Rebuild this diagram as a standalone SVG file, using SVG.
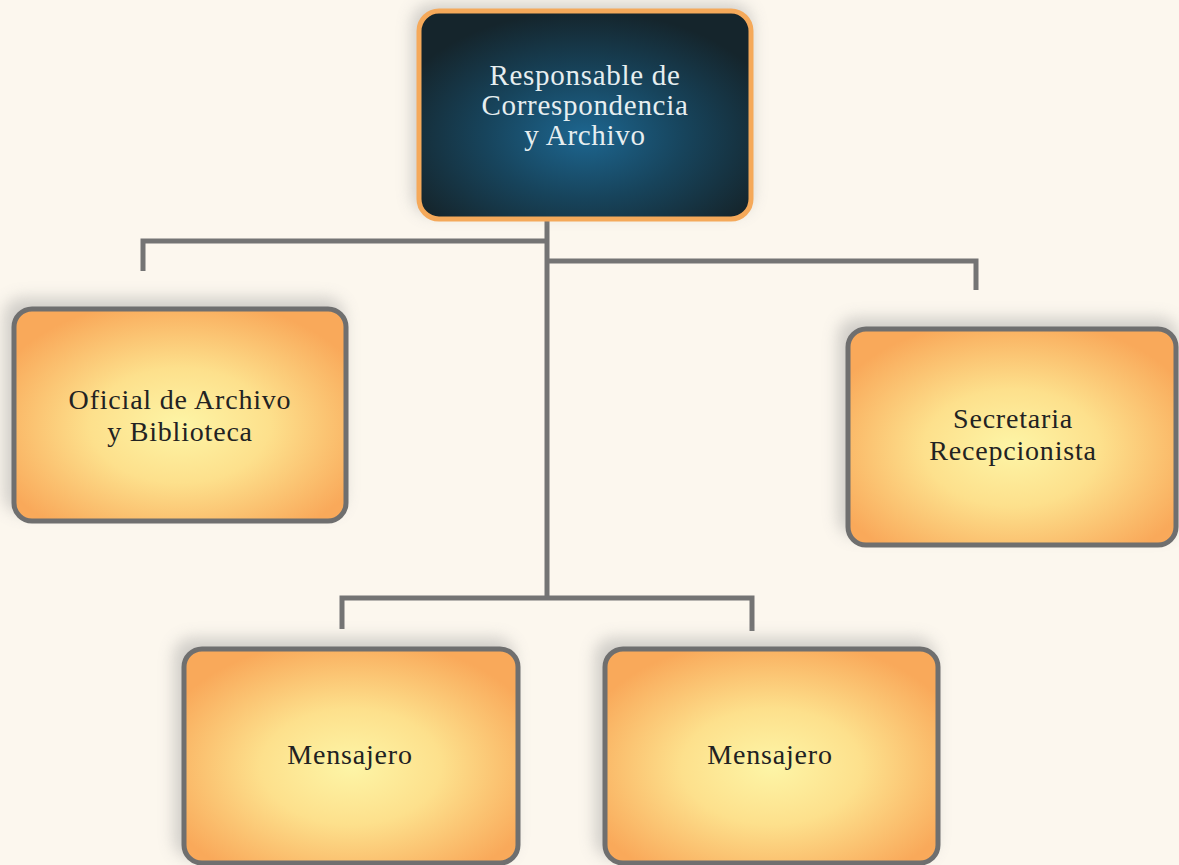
<svg xmlns="http://www.w3.org/2000/svg" width="1179" height="865" viewBox="0 0 1179 865">
<defs>
<radialGradient id="og" cx="0.5" cy="0.55" r="0.6">
<stop offset="0" stop-color="#fdf5a6"/>
<stop offset="0.45" stop-color="#fde08c"/>
<stop offset="1" stop-color="#f9a95a"/>
</radialGradient>
<radialGradient id="tg" cx="0.5" cy="0.6" r="0.6">
<stop offset="0" stop-color="#1d6690"/>
<stop offset="0.5" stop-color="#17445c"/>
<stop offset="1" stop-color="#15252c"/>
</radialGradient>
<filter id="sh" x="-20%" y="-20%" width="140%" height="140%">
<feGaussianBlur stdDeviation="8"/>
</filter>
<style>
.box{stroke:#6f6f6f;stroke-width:5;fill:url(#og)}
.shadow{fill:#9a9a9a;opacity:0.45;filter:url(#sh)}
.lbl{font-family:"Liberation Serif","DejaVu Serif",serif;font-size:28px;letter-spacing:0.8px;fill:#222;text-anchor:middle}
.tl{font-family:"Liberation Serif","DejaVu Serif",serif;font-size:29px;letter-spacing:0.7px;fill:#e6eef0;text-anchor:middle}
.conn{stroke:#747474;stroke-width:5;fill:none}
</style>
</defs>
<rect width="1179" height="865" fill="#fcf7ee"/>
<g id="connectors">
<path class="conn" d="M547 220V598"/>
<path class="conn" d="M143 271V241H547"/>
<path class="conn" d="M547 261H976V290"/>
<path class="conn" d="M342 629V598H752V631"/>
</g>
<g id="top">
<rect x="412" y="4" width="340" height="210" rx="20" class="shadow"/>
<rect x="419" y="11" width="332" height="208" rx="20" fill="url(#tg)" stroke="#f5a95a" stroke-width="5"/>
<text class="tl" x="585" y="85">Responsable de</text>
<text class="tl" x="585" y="115">Correspondencia</text>
<text class="tl" x="585" y="145">y Archivo</text>
</g>
<g id="oficial">
<rect x="4" y="298" width="340" height="215" rx="18" class="shadow"/>
<rect x="14" y="309" width="332" height="212" rx="18" class="box"/>
<text class="lbl" x="180" y="409">Oficial de Archivo</text>
<text class="lbl" x="180" y="441">y Biblioteca</text>
</g>
<g id="secretaria">
<rect x="838" y="318" width="340" height="218" rx="18" class="shadow"/>
<rect x="848" y="329" width="328" height="216" rx="18" class="box"/>
<text class="lbl" x="1013" y="428">Secretaria</text>
<text class="lbl" x="1013" y="460">Recepcionista</text>
</g>
<g id="mensajero1">
<rect x="174" y="638" width="340" height="220" rx="18" class="shadow"/>
<rect x="184" y="649" width="334" height="214" rx="18" class="box"/>
<text class="lbl" x="350" y="764">Mensajero</text>
</g>
<g id="mensajero2">
<rect x="595" y="638" width="340" height="220" rx="18" class="shadow"/>
<rect x="605" y="649" width="333" height="214" rx="18" class="box"/>
<text class="lbl" x="770" y="764">Mensajero</text>
</g>
</svg>
